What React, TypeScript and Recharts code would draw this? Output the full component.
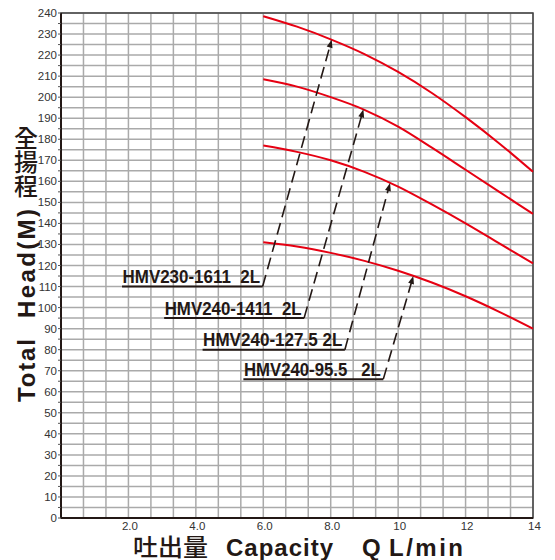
import React from 'react';
import { LineChart, Line, XAxis, YAxis, CartesianGrid, ReferenceLine, ReferenceArea } from 'recharts';

// capacity Q (L/min) and total head (M)
const capacity = [6, 7, 8, 9, 10, 11, 12, 13, 14];
const hmv230_1611 = [238.5, 233.5, 227.5, 220.5, 212, 202, 190.5, 178, 164.5];
const hmv240_1411 = [208.5, 205, 200, 194, 186, 176, 165.5, 155, 144.5];
const hmv240_1275 = [177, 174, 170, 164.5, 157.5, 149, 140, 130.5, 121];
const hmv240_955 = [131, 129, 126, 122.2, 117.5, 111.9, 105.4, 98, 90];

const xLabels = [2, 4, 6, 8, 10, 12, 14];
const xLabelText = ['2.0', '4.0', '6.0', '8.0', '10', '12', '14'];
const yLabels = [0, 10, 20, 30, 40, 50, 60, 70, 80, 90, 100, 110, 120, 130, 140, 150, 160, 170, 180, 190, 200, 210, 220, 230, 240];

// model callouts: underline from startQ to endQ at head, dashed arrow to (tipQ, tipHead)
const modelNames = ['HMV230-1611  2L', 'HMV240-1411  2L', 'HMV240-127.5 2L', 'HMV240-95.5   2L'];
const labelStartQ = [1.81, 3.06, 4.2, 5.41];
const labelEndQ = [5.98, 7.21, 8.42, 9.56];
const labelHead = [110, 95, 80, 66];
const tipQ = [8.03, 8.97, 9.76, 10.45];
const tipHead = [227.3, 194.2, 159.2, 115];

const data = capacity.map((q, i) => ({
  q,
  a: hmv230_1611[i],
  b: hmv240_1411[i],
  c: hmv240_1275[i],
  d: hmv240_955[i],
}));

const xGrid = Array.from({ length: 22 }, (_, i) => (i * 2) / 3);
const yGrid = Array.from({ length: 49 }, (_, i) => i * 5);

const INK = '#231815';
const RED = '#e60012';
const FONT = '"Liberation Sans", Arial, sans-serif';
const CJK = '"Noto Sans CJK TC", "Noto Sans CJK JP", sans-serif';

const XTick = (props: any) => {
  const { x, y, payload } = props;
  const idx = xLabels.findIndex((v) => Math.abs(v - payload.value) < 0.01);
  if (idx < 0) return null;
  return (
    <text x={x + 1.5} y={y + 4} textAnchor="middle" fontSize={11.5} fill="#333" fontFamily={FONT}>
      {xLabelText[idx]}
    </text>
  );
};

const YTick = (props: any) => {
  const { x, y, payload } = props;
  if (!yLabels.includes(payload.value)) return null;
  return (
    <text x={x + 1} y={y + 4} textAnchor="end" fontSize={11.5} fill="#333" fontFamily={FONT}>
      {payload.value}
    </text>
  );
};

const Underlined = (props: any) => {
  const { x1, y1, x2, text } = props;
  return (
    <g>
      <line x1={x1} y1={y1} x2={x2} y2={y1} stroke={INK} strokeWidth={2} />
      <text
        x={x1 + 0.5}
        y={y1 - 3.5}
        fontSize={18}
        fontWeight="bold"
        fill={INK}
        fontFamily={FONT}
        textLength={x2 - x1 - 3}
        lengthAdjust="spacingAndGlyphs"
        style={{ whiteSpace: 'pre' }}
      >
        {text}
      </text>
    </g>
  );
};

const DashedArrow = (props: any) => {
  const { x1, y1, x2, y2 } = props;
  const len = Math.hypot(x2 - x1, y2 - y1);
  const ux = (x2 - x1) / len;
  const uy = (y2 - y1) / len;
  const bx = x2 - ux * 8;
  const by = y2 - uy * 8;
  const px = -uy * 3;
  const py = ux * 3;
  return (
    <g>
      <line x1={x1} y1={y1} x2={bx + ux * 2} y2={by + uy * 2} stroke={INK} strokeWidth={1.6} strokeDasharray="12 6" />
      <polygon points={`${x2},${y2} ${bx + px},${by + py} ${bx - px},${by - py}`} fill={INK} />
    </g>
  );
};

const YTitle = () => (
  <g>
    <text x={26} y={147} fontSize={24} fontWeight={500} fill={INK} fontFamily={CJK} textAnchor="middle">全</text>
    <text x={26} y={171} fontSize={24} fontWeight={500} fill={INK} fontFamily={CJK} textAnchor="middle">揚</text>
    <text x={26} y={195} fontSize={24} fontWeight={500} fill={INK} fontFamily={CJK} textAnchor="middle">程</text>
    <g transform="translate(35, 402) rotate(-90)">
      <text x={0} y={0} fontSize={24} fontWeight="bold" fill={INK} fontFamily={FONT} textLength={63} lengthAdjust="spacing">
        Total
      </text>
      <text x={84} y={0} fontSize={24} fontWeight="bold" fill={INK} fontFamily={FONT} textLength={109} lengthAdjust="spacing">
        Head(M)
      </text>
    </g>
  </g>
);

const XTitle = () => (
  <text y={555.5} fill={INK}>
    <tspan x={133} fontFamily={CJK} fontSize={24} fontWeight={500} textLength={75} lengthAdjust="spacingAndGlyphs">吐出量</tspan>
    <tspan x={226} fontFamily={FONT} fontSize={24} fontWeight="bold" textLength={107} lengthAdjust="spacing">Capacity</tspan>
    <tspan x={362} fontFamily={FONT} fontSize={24} fontWeight="bold">Q</tspan>
    <tspan x={389} fontFamily={FONT} fontSize={24} fontWeight="bold" textLength={74} lengthAdjust="spacing">L/min</tspan>
  </text>
);

export default function App() {
  return (
    <div style={{ position: 'absolute', left: 0, top: 0, width: 555, height: 560, background: '#fff' }}>
      <LineChart width={555} height={560} data={data} margin={{ top: 13, right: 22, bottom: 0, left: 0 }}>
        <CartesianGrid stroke="#aaaaaa" strokeWidth={1.5} />
        <XAxis
          dataKey="q"
          type="number"
          domain={[0, 14]}
          ticks={xGrid}
          interval={0}
          height={42}
          tickLine={false}
          axisLine={{ stroke: INK, strokeWidth: 2 }}
          tick={<XTick />}
          label={{ content: () => <XTitle /> }}
        />
        <YAxis
          type="number"
          domain={[0, 240]}
          ticks={yGrid}
          interval={0}
          width={61}
          tickSize={3}
          tickLine={{ stroke: '#555' }}
          axisLine={{ stroke: INK, strokeWidth: 2 }}
          tick={<YTick />}
          label={{ content: () => <YTitle /> }}
        />
        <ReferenceArea x1={0} x2={14} y1={0} y2={240} fill="none" stroke="#444" strokeWidth={1.5} />
        <Line type="monotone" dataKey="a" stroke={RED} strokeWidth={2} dot={false} isAnimationActive={false} />
        <Line type="monotone" dataKey="b" stroke={RED} strokeWidth={2} dot={false} isAnimationActive={false} />
        <Line type="monotone" dataKey="c" stroke={RED} strokeWidth={2} dot={false} isAnimationActive={false} />
        <Line type="monotone" dataKey="d" stroke={RED} strokeWidth={2} dot={false} isAnimationActive={false} />
        {modelNames.map((name, i) => (
          <ReferenceLine
            key={'u' + i}
            segment={[
              { x: labelStartQ[i], y: labelHead[i] },
              { x: labelEndQ[i], y: labelHead[i] },
            ]}
            shape={(p: any) => <Underlined {...p} text={name} />}
          />
        ))}
        {modelNames.map((name, i) => (
          <ReferenceLine
            key={'a' + i}
            segment={[
              { x: labelEndQ[i], y: labelHead[i] },
              { x: tipQ[i], y: tipHead[i] },
            ]}
            shape={(p: any) => <DashedArrow {...p} />}
          />
        ))}
      </LineChart>
    </div>
  );
}
